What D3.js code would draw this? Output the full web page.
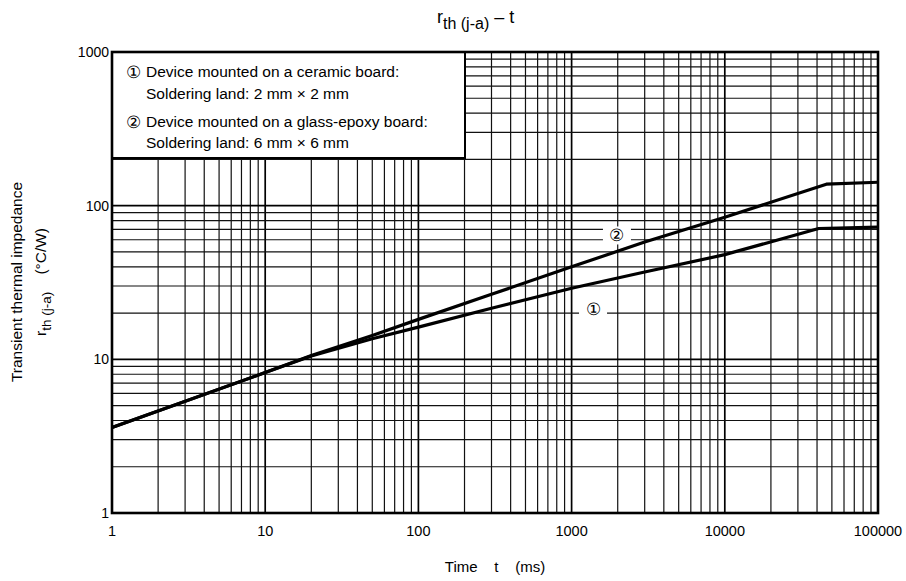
<!DOCTYPE html>
<html lang="en">
<head>
<meta charset="UTF-8">
<title>rth(j-a) - t</title>
<script src="https://d3js.org/d3.v7.min.js"></script>
<style>
  body { margin: 0; background: #fff; font-family: "Liberation Sans", Arial, sans-serif; }
  svg text { fill: #000; }
</style>
</head>
<body>
<svg id="chart" width="906" height="581"></svg>
<script>
// data
const curve1Time = [1, 10, 20, 50, 100, 300, 1000, 3000, 10000, 41000, 100000];
const curve1Val  = [3.6, 8.2, 10.5, 13.6, 16.2, 21.5, 29, 37, 48, 71, 72.5];
const curve2Time = [1, 10, 20, 50, 100, 300, 1000, 3000, 10000, 46000, 100000];
const curve2Val  = [3.6, 8.2, 10.6, 14.3, 18.2, 26.5, 40, 58, 84, 138, 142];

const xTicks = [1, 10, 100, 1000, 10000, 100000];
const yTicks = [1, 10, 100, 1000];
const legendLines = [
  ["\u2460", "Device mounted on a ceramic board:"],
  ["", "Soldering land: 2 mm \u00d7 2 mm"],
  ["\u2461", "Device mounted on a glass-epoxy board:"],
  ["", "Soldering land: 6 mm \u00d7 6 mm"]
];
// curve label anchors [t, value]
const curveLabels = [["\u2460", 1380, 21.2], ["\u2461", 1977, 64]];

const svg = d3.select("#chart");
const pLeft = 112, pRight = 878, pTop = 52, pBottom = 513;

const x = d3.scaleLog().domain([1, 100000]).range([pLeft, pRight]);
const y = d3.scaleLog().domain([1, 1000]).range([pBottom, pTop]);

// grid
const g = svg.append("g");
const xMinor = [], yMinor = [];
for (let d = 1; d < 100000; d *= 10) for (let k = 2; k <= 9; k++) xMinor.push(d * k);
for (let d = 1; d < 1000; d *= 10) for (let k = 2; k <= 9; k++) yMinor.push(d * k);

g.selectAll(".vx").data(xMinor).enter().append("line")
  .attr("x1", d => x(d)).attr("x2", d => x(d))
  .attr("y1", pTop).attr("y2", pBottom)
  .attr("stroke", "#111").attr("stroke-width", 1.2);
g.selectAll(".vxm").data(xTicks.slice(1, -1)).enter().append("line")
  .attr("x1", d => x(d)).attr("x2", d => x(d))
  .attr("y1", pTop).attr("y2", pBottom)
  .attr("stroke", "#000").attr("stroke-width", 1.7);
g.selectAll(".hy").data(yMinor).enter().append("line")
  .attr("y1", d => y(d)).attr("y2", d => y(d))
  .attr("x1", pLeft).attr("x2", pRight)
  .attr("stroke", "#111").attr("stroke-width", 1.2);
g.selectAll(".hym").data(yTicks.slice(1, -1)).enter().append("line")
  .attr("y1", d => y(d)).attr("y2", d => y(d))
  .attr("x1", pLeft).attr("x2", pRight)
  .attr("stroke", "#000").attr("stroke-width", 1.7);

// curves
const line = d3.line().x(d => x(d[0])).y(d => y(d[1]));
[[curve1Time, curve1Val], [curve2Time, curve2Val]].forEach(([t, v]) => {
  svg.append("path")
    .datum(t.map((tt, i) => [tt, v[i]]))
    .attr("d", line)
    .attr("fill", "none")
    .attr("stroke", "#000")
    .attr("stroke-width", 3.2)
    .attr("stroke-linejoin", "round");
});

// curve labels with white background
curveLabels.forEach(([s, t, v]) => {
  svg.append("rect")
    .attr("x", x(t) - 14).attr("y", y(v) - 9)
    .attr("width", 28).attr("height", 18)
    .attr("fill", "#fff");
  svg.append("text")
    .attr("x", x(t)).attr("y", y(v) + 6)
    .attr("text-anchor", "middle")
    .attr("font-size", 17)
    .text(s);
});

// legend box
svg.append("rect")
  .attr("x", pLeft).attr("y", pTop)
  .attr("width", 353).attr("height", 106)
  .attr("fill", "#fff").attr("stroke", "#000").attr("stroke-width", 2);
const legY = [77, 99, 127, 148];
legendLines.forEach(([c, s], i) => {
  if (c) svg.append("text").attr("x", 126).attr("y", legY[i] + 1)
    .attr("font-size", 17).text(c);
  svg.append("text").attr("x", 146).attr("y", legY[i])
    .attr("font-size", 15.5).text(s);
});

// frame
svg.append("rect")
  .attr("x", pLeft).attr("y", pTop)
  .attr("width", pRight - pLeft).attr("height", pBottom - pTop)
  .attr("fill", "none").attr("stroke", "#000").attr("stroke-width", 2.6);

// tick labels
svg.selectAll(".xt").data(xTicks).enter().append("text")
  .attr("x", d => x(d)).attr("y", pBottom + 23)
  .attr("text-anchor", "middle").attr("font-size", 14.5)
  .text(d => d);
svg.selectAll(".yt").data(yTicks).enter().append("text")
  .attr("x", pLeft - 3).attr("y", d => y(d) + 5)
  .attr("text-anchor", "end").attr("font-size", 14)
  .text(d => d);

// title
const title = svg.append("text").attr("x", 437).attr("y", 23).attr("font-size", 18)
  .attr("xml:space", "preserve");
title.append("tspan").text("r");
title.append("tspan").attr("dy", 6).attr("font-size", 16).text("th (j-a)");
title.append("tspan").attr("dy", -6).text(" \u2013 t");

// x axis title
svg.append("text").attr("x", 495).attr("y", 572)
  .attr("text-anchor", "middle").attr("font-size", 15)
  .attr("xml:space", "preserve")
  .text("Time    t    (ms)");

// y axis title
svg.append("text")
  .attr("transform", "translate(22,282) rotate(-90)")
  .attr("text-anchor", "middle").attr("font-size", 15.5)
  .text("Transient thermal impedance");
const yt2 = svg.append("text")
  .attr("transform", "translate(46,282) rotate(-90)")
  .attr("text-anchor", "middle").attr("font-size", 15.5)
  .attr("xml:space", "preserve");
yt2.append("tspan").text("r");
yt2.append("tspan").attr("dy", 5).attr("font-size", 13.5).text("th (j-a)");
yt2.append("tspan").attr("dy", -5).text("    (\u00b0C/W)");
</script>
</body>
</html>
